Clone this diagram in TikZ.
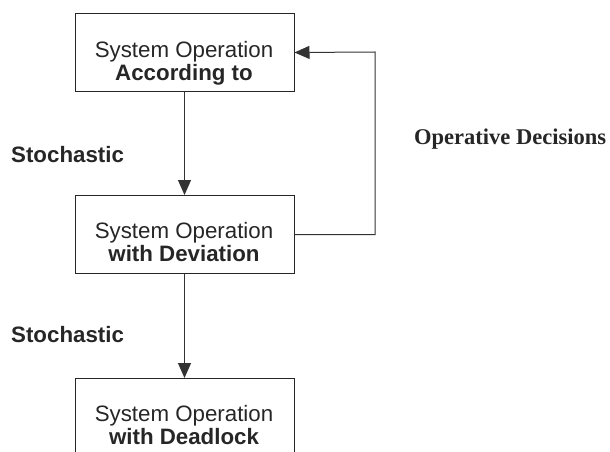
\documentclass[tikz,border=0pt]{standalone}
\usepackage{fontspec}
\setmainfont{Liberation Sans}
\newfontfamily\timesfont{Liberation Serif}
\usetikzlibrary{arrows.meta}
\begin{document}
\begin{tikzpicture}[x=1pt,y=-1pt,
  box/.style={draw=black!85,line width=1pt,minimum width=219pt,minimum height=78pt,inner sep=0pt,anchor=north west},
  txt/.style={anchor=base,inner sep=0pt,font=\fontsize{22.3}{23}\selectfont,text=black!85},
  lbl/.style={anchor=base west,inner sep=0pt,font=\fontsize{22.3}{23}\selectfont\bfseries,text=black!85},
  conn/.style={line width=1pt,draw=black!80,-{Triangle[length=15pt,width=13pt]}}]
\useasboundingbox (0,0) rectangle (610,452);
\clip (0,0) rectangle (610,452);
\node[box] (b1) at (74.5,13) {};
\node[box] (b2) at (74.5,195) {};
\node[box] (b3) at (74.5,378) {};
\node[txt] (t1a) at (184,57) {System Operation};
\node[txt] (t1b) at (184,80) {\bfseries According to};
\node[txt] (t2a) at (184,238) {System Operation};
\node[txt] (t2b) at (184,261) {\bfseries with Deviation};
\node[txt] (t3a) at (184,421) {System Operation};
\node[txt] (t3b) at (184,444) {\bfseries with Deadlock};
\node[lbl] (s1) at (11,162) {Stochastic};
\node[lbl] (s2) at (11,342) {Stochastic};
\node[lbl,font=\fontsize{22.5}{23}\selectfont\timesfont\bfseries] (od) at (414,144) {Operative Decisions};
\coordinate (fb) at (375,52);
\draw[conn] (b1.south) -- (b2.north);
\draw[conn] (b2.south) -- (b3.north);
\draw[conn] (b2.east) -| (fb) -- (b1.east);
\end{tikzpicture}
\end{document}
